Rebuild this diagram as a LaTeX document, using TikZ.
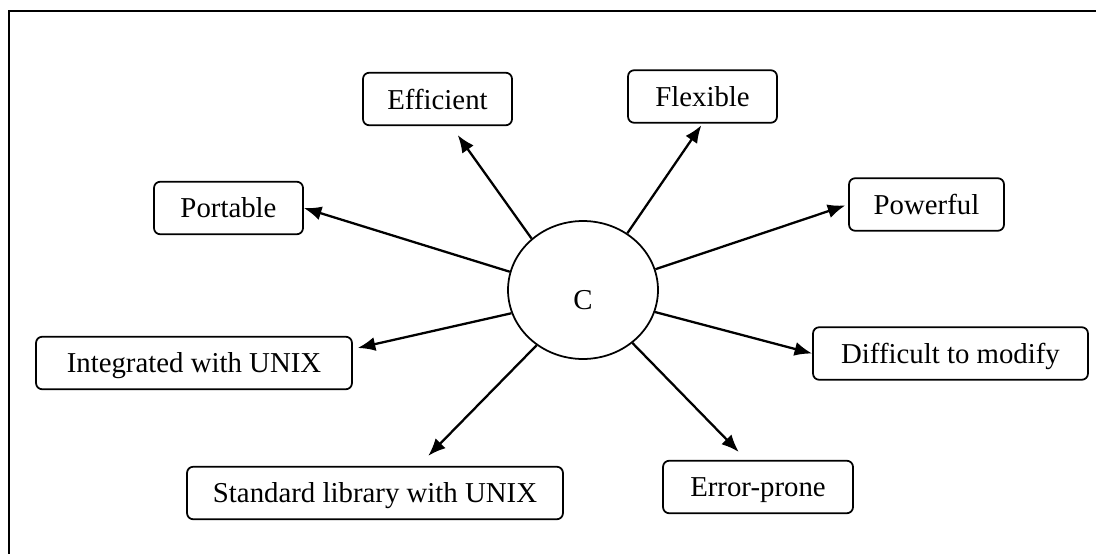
\documentclass[tikz,border=0pt]{standalone}
\usepackage{fontspec}
\setmainfont{Liberation Serif}
\usepackage{tikz}
\usetikzlibrary{shapes.geometric,arrows.meta}

\begin{document}
\begin{tikzpicture}[x=0.02cm,y=-0.02cm,
  feature/.style={draw,rounded corners=3.5pt,line width=1pt,minimum height=1.05cm,inner sep=0pt,text depth=0pt,font=\fontsize{16.4}{19}\selectfont},
  hub/.style={draw,ellipse,line width=1pt,minimum width=3cm,minimum height=2.76cm,inner sep=0pt,font=\fontsize{16.4}{19}\selectfont},
  arr/.style={-{Latex[length=10pt,width=8pt]},line width=1.3pt}]
  \useasboundingbox (0,0) rectangle (1096,554);
  % Frame
  \draw[line width=1.2pt] (1096,11) -- (9,11) -- (9,554);

  % Center
  \node[hub] (c) at (583,290) {\raisebox{-11pt}[0pt][0pt]{C}};

  % Features
  \node[feature,minimum width=2.98cm] (eff) at (437.5,99) {Efficient};
  \node[feature,minimum width=2.98cm] (flex) at (702.5,96.5) {Flexible};
  \node[feature,minimum width=2.98cm] (port) at (228.5,208) {Portable};
  \node[feature,minimum width=3.1cm] (pow) at (926.5,204.5) {Powerful};
  \node[feature,minimum width=6.32cm] (integ) at (194,363) {Integrated with UNIX\hspace{16pt}};
  \node[feature,minimum width=5.5cm] (diff) at (950.5,353.5) {Difficult to modify};
  \node[feature,minimum width=3.8cm] (err) at (758,487) {Error-prone};
  \node[feature,minimum width=7.52cm] (std) at (375,493) {Standard library with UNIX};

  % Arrows
  \draw[arr,shorten >=0.22cm] (c.135) -- (eff.-63);
  \draw[arr,shorten >=0.04cm] (c.52) -- (flex.south);
  \draw[arr] (c.166) -- (port.east);
  \draw[arr,shorten >=0.06cm] (c.16) -- (pow.west);
  \draw[arr,shorten >=0.1cm] (c.198) -- (integ.5);
  \draw[arr] (c.343) -- (diff.west);
  \draw[arr,shorten >=0.22cm] (c.313) -- (err.113);
  \draw[arr,shorten >=0.28cm] (c.230) -- (std.32);
\end{tikzpicture}
\end{document}
